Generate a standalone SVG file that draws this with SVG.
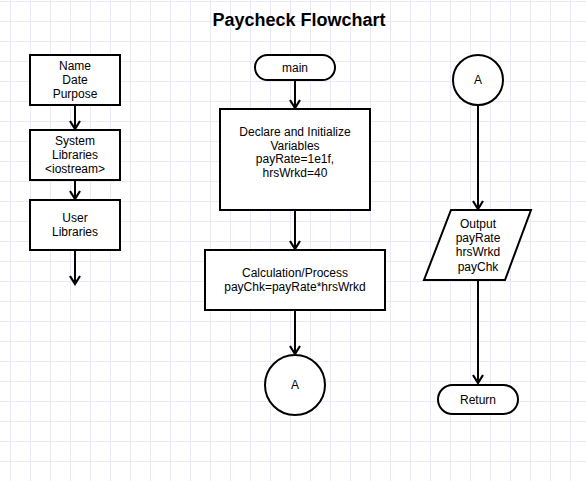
<svg xmlns="http://www.w3.org/2000/svg" width="586" height="481" viewBox="0 0 586 481">
<defs>
<pattern id="grid" x="10" y="1" width="20" height="20" patternUnits="userSpaceOnUse">
<path d="M0.5,0 V20 M0,0.5 H20" fill="none" stroke="#e9e9f6" stroke-width="1"/>
</pattern>
<marker id="arr" viewBox="0 0 12 12" refX="10" refY="6" markerWidth="12" markerHeight="12" markerUnits="userSpaceOnUse" orient="auto">
<path d="M2,1 L10,6 L2,11" fill="none" stroke="#000" stroke-width="2.2"/>
</marker>
</defs>
<style>
.shape{fill:#fff;stroke:#000;stroke-width:2}
.t{font-family:"Liberation Sans",Arial,sans-serif;font-size:12px;text-anchor:middle;fill:#000}
.title{font-family:"Liberation Sans",Arial,sans-serif;font-size:18px;font-weight:bold;text-anchor:middle;fill:#000}
.conn{fill:none;stroke:#000;stroke-width:2;marker-end:url(#arr)}
</style>
<rect x="0" y="0" width="586" height="481" fill="#fff"/>
<rect x="0" y="0" width="586" height="481" fill="url(#grid)"/>
<text class="title" x="299" y="26">Paycheck Flowchart</text>

<g id="connectors">
<line class="conn" x1="75" y1="105" x2="75" y2="129"/>
<line class="conn" x1="75" y1="180" x2="75" y2="199"/>
<line class="conn" x1="75" y1="250" x2="75" y2="284"/>
<line class="conn" x1="295" y1="80" x2="295" y2="108"/>
<line class="conn" x1="295" y1="210" x2="295" y2="249"/>
<line class="conn" x1="295" y1="310" x2="295" y2="354"/>
<line class="conn" x1="478" y1="105" x2="478" y2="209"/>
<line class="conn" x1="478" y1="280" x2="478" y2="383"/>
</g>

<g id="n-header">
<rect class="shape" x="30" y="55" width="90" height="50"/>
<text class="t" x="75" y="70">Name</text>
<text class="t" x="75" y="84">Date</text>
<text class="t" x="75" y="98">Purpose</text>
</g>
<g id="n-syslib">
<rect class="shape" x="30" y="130" width="90" height="50"/>
<text class="t" x="75" y="145">System</text>
<text class="t" x="75" y="159">Libraries</text>
<text class="t" x="75" y="173">&lt;iostream&gt;</text>
</g>
<g id="n-userlib">
<rect class="shape" x="30" y="200" width="90" height="50"/>
<text class="t" x="75" y="222">User</text>
<text class="t" x="75" y="236">Libraries</text>
</g>

<g id="n-main">
<rect class="shape" x="255" y="55" width="80" height="25" rx="12.5" ry="12.5"/>
<text class="t" x="295" y="72">main</text>
</g>
<g id="n-declare">
<rect class="shape" x="220" y="109" width="150" height="101"/>
<text class="t" x="295" y="136">Declare and Initialize</text>
<text class="t" x="295" y="150">Variables</text>
<text class="t" x="295" y="163">payRate=1e1f,</text>
<text class="t" x="295" y="177">hrsWrkd=40</text>
</g>
<g id="n-calc">
<rect class="shape" x="205" y="250" width="180" height="60"/>
<text class="t" x="295" y="277">Calculation/Process</text>
<text class="t" x="295" y="291">payChk=payRate*hrsWrkd</text>
</g>
<g id="n-connA1">
<circle class="shape" cx="295" cy="385" r="30"/>
<text class="t" x="295" y="389">A</text>
</g>

<g id="n-connA2">
<circle class="shape" cx="478" cy="80" r="25"/>
<text class="t" x="478" y="84">A</text>
</g>
<g id="n-output">
<polygon class="shape" points="451,210 531,210 505,280 424,280"/>
<text class="t" x="478" y="228">Output</text>
<text class="t" x="478" y="242">payRate</text>
<text class="t" x="478" y="256">hrsWrkd</text>
<text class="t" x="478" y="271">payChk</text>
</g>
<g id="n-return">
<rect class="shape" x="438" y="385" width="80" height="29" rx="14.5" ry="14.5"/>
<text class="t" x="478" y="404">Return</text>
</g>
</svg>
